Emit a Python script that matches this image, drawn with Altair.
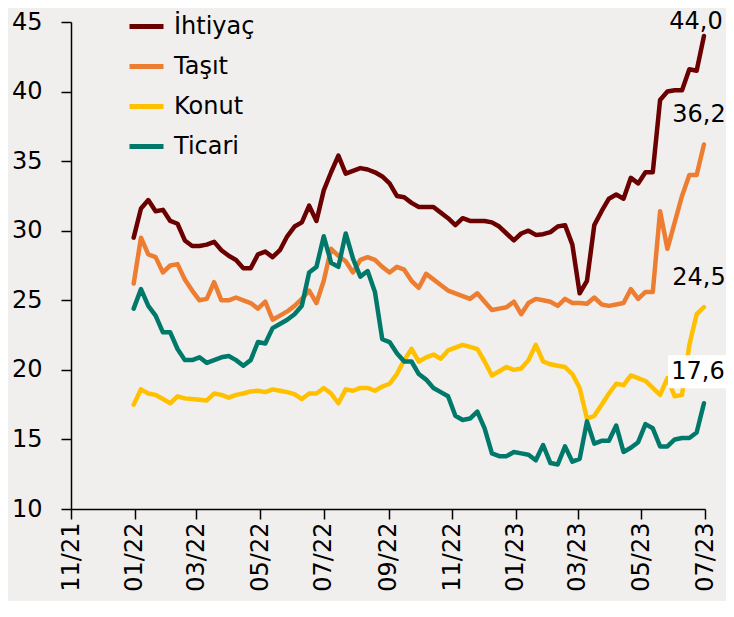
import altair as alt
import pandas as pd

# ---- data (weekly) ----
series_names = ["İhtiyaç", "Taşıt", "Konut", "Ticari"]
series_colors = ["#6B0000", "#ED7D31", "#FFC000", "#00796B"]

ihtiyac = [29.5, 31.6, 32.2, 31.4, 31.5, 30.7, 30.5, 29.3, 28.9, 28.9,
           29.0, 29.2, 28.6, 28.2, 27.9, 27.3, 27.3, 28.3, 28.5, 28.1,
           28.6, 29.6, 30.3, 30.6, 31.8, 30.7, 32.9, 34.2, 35.4, 34.1,
           34.3, 34.5, 34.4, 34.2, 33.9, 33.4, 32.5, 32.4, 32.0, 31.7,
           31.7, 31.7, 31.3, 30.9, 30.4, 30.9, 30.7, 30.7, 30.7, 30.6,
           30.3, 29.8, 29.3, 29.8, 30.0, 29.7, 29.75, 29.9, 30.3, 30.4,
           29.0, 25.5, 26.4, 30.4, 31.4, 32.3, 32.6, 32.3, 33.8, 33.4,
           34.2, 34.2, 39.4, 40.0, 40.1, 40.1, 41.6, 41.5, 44.0]
tasit = [26.2, 29.5, 28.3, 28.1, 27.0, 27.5, 27.6, 26.5, 25.7, 25.0,
         25.1, 26.3, 25.0, 25.0, 25.2, 25.0, 24.8, 24.4, 24.9, 23.6,
         23.9, 24.2, 24.6, 25.1, 25.7, 24.8, 26.4, 28.7, 28.2, 27.8,
         27.0, 27.9, 28.1, 27.9, 27.4, 27.0, 27.4, 27.2, 26.4, 25.9,
         26.9, 26.5, 26.1, 25.7, 25.5, 25.3, 25.1, 25.5, 24.9, 24.3,
         24.4, 24.5, 24.9, 24.0, 24.8, 25.1, 25.0, 24.9, 24.6, 25.1,
         24.8, 24.8, 24.75, 25.2, 24.7, 24.6, 24.7, 24.8, 25.8, 25.1,
         25.6, 25.6, 31.4, 28.7, 30.6, 32.5, 34.0, 34.0, 36.2]
konut = [17.5, 18.6, 18.3, 18.2, 17.9, 17.6, 18.1, 17.95, 17.9, 17.85,
         17.8, 18.3, 18.2, 18.0, 18.2, 18.3, 18.45, 18.5, 18.4, 18.6,
         18.5, 18.4, 18.25, 17.9, 18.3, 18.3, 18.7, 18.3, 17.6, 18.6,
         18.5, 18.7, 18.7, 18.5, 18.8, 19.0, 19.7, 20.7, 21.5, 20.6,
         20.9, 21.1, 20.8, 21.4, 21.6, 21.8, 21.65, 21.5, 20.6, 19.6,
         19.9, 20.2, 20.0, 20.1, 20.7, 21.8, 20.6, 20.4, 20.3, 20.2,
         19.7, 18.7, 16.5, 16.7, 17.5, 18.3, 19.0, 18.9, 19.6, 19.4,
         19.2, 18.7, 18.2, 19.4, 18.1, 18.2, 21.8, 24.0, 24.5]
ticari = [24.4, 25.8, 24.6, 23.9, 22.7, 22.7, 21.5, 20.7, 20.7, 20.9,
          20.5, 20.7, 20.9, 21.0, 20.7, 20.3, 20.7, 22.0, 21.9, 23.0,
          23.3, 23.6, 24.0, 24.6, 27.0, 27.4, 29.6, 27.7, 27.4, 29.8,
          28.0, 26.7, 27.1, 25.6, 22.2, 22.0, 21.2, 20.6, 20.6, 19.7,
          19.3, 18.7, 18.4, 18.1, 16.7, 16.4, 16.5, 17.0, 15.8, 14.0,
          13.8, 13.8, 14.1, 14.0, 13.9, 13.5, 14.6, 13.3, 13.2, 14.5,
          13.4, 13.6, 16.3, 14.7, 14.9, 14.9, 16.0, 14.1, 14.4, 14.8,
          16.1, 15.8, 14.5, 14.5, 15.0, 15.1, 15.1, 15.5, 17.6]

start_date = "2021-12-31"
tick_months = ["2021-11", "2022-01", "2022-03", "2022-05", "2022-07", "2022-09",
               "2022-11", "2023-01", "2023-03", "2023-05", "2023-07"]
y_ticks = [10, 15, 20, 25, 30, 35, 40, 45]

# ---- build table ----
dates = pd.date_range(start_date, periods=len(ihtiyac), freq="7D").strftime("%Y-%m-%d")
all_vals = [ihtiyac, tasit, konut, ticari]
rows = []
for name, vals in zip(series_names, all_vals):
    for d, v in zip(dates, vals):
        rows.append({"date": d, "value": v, "series": name})
df = pd.DataFrame(rows)

ends = pd.DataFrame([
    {"date": dates[-1], "value": vals[-1], "series": name,
     "label": f"{vals[-1]:.1f}".replace(".", ",")}
    for name, vals in zip(series_names, all_vals)
])


def dt(s):
    y, m = s.split("-")
    return alt.DateTime(year=int(y), month=int(m), date=1, utc=True)


FONT = "DejaVu Sans"

x_enc = alt.X(
    "date:T",
    scale=alt.Scale(type="utc", domain=[dt(tick_months[0]), dt(tick_months[-1])]),
    axis=alt.Axis(values=[dt(m) for m in tick_months], format="%m/%y",
                  labelAngle=-90, title=None, grid=False,
                  tickSize=10, labelPadding=3, labelFontSize=24,
                  labelFont=FONT, labelColor="black", domainColor="black",
                  tickColor="black", domainWidth=1.5, tickWidth=1.5),
)
y_enc = alt.Y(
    "value:Q",
    scale=alt.Scale(domain=[10, 45], nice=False, zero=False),
    axis=alt.Axis(values=y_ticks, title=None, grid=False, tickSize=10,
                  labelPadding=19, labelFontSize=24, labelFont=FONT,
                  labelColor="black", domainColor="black", tickColor="black",
                  domainWidth=1.5, tickWidth=1.5),
)

color_enc = alt.Color(
    "series:N",
    scale=alt.Scale(domain=series_names, range=series_colors),
    legend=alt.Legend(orient="none", legendX=56, legendY=-15, title=None,
                      symbolType="stroke", symbolSize=1156, symbolStrokeWidth=5,
                      labelFontSize=24, labelFont=FONT, labelColor="black",
                      labelOffset=8, rowPadding=8, padding=0),
)

lines = alt.Chart(df).mark_line(strokeWidth=4.5, strokeJoin="round", strokeCap="round").encode(
    x=x_enc, y=y_enc, color=color_enc
)

box = alt.Chart(ends).transform_filter(alt.datum.series == "Ticari").mark_point(
    shape="M-1,-0.57H1V0.57H-1Z", size=3364, filled=True, fill="white",
    opacity=1, strokeWidth=0, yOffset=-31.5, xOffset=-7
).encode(x="date:T", y="value:Q")

labels_a = alt.Chart(ends).transform_filter(alt.datum.series == "İhtiyaç").mark_text(
    fontSize=24, font=FONT, color="black", dy=-14, dx=-8, align="center", baseline="middle"
).encode(x="date:T", y="value:Q", text="label:N")

labels_b = alt.Chart(ends).transform_filter(
    (alt.datum.series == "Taşıt") | (alt.datum.series == "Konut")
).mark_text(
    fontSize=24, font=FONT, color="black", dy=-29, dx=-5, align="center", baseline="middle"
).encode(x="date:T", y="value:Q", text="label:N")

labels_c = alt.Chart(ends).transform_filter(alt.datum.series == "Ticari").mark_text(
    fontSize=24, font=FONT, color="black", dy=-31, dx=-6, align="center", baseline="middle"
).encode(x="date:T", y="value:Q", text="label:N")

chart = alt.layer(lines, box, labels_a, labels_b, labels_c).properties(
    width=634, height=487,
    autosize=alt.AutoSizeParams(type="none"),
    padding={"left": 63, "top": 14, "right": 21, "bottom": 92},
    background="#F1EFED",
).configure_view(stroke=None)

chart.save("out.html", embed_options={"renderer": "svg", "actions": False})
